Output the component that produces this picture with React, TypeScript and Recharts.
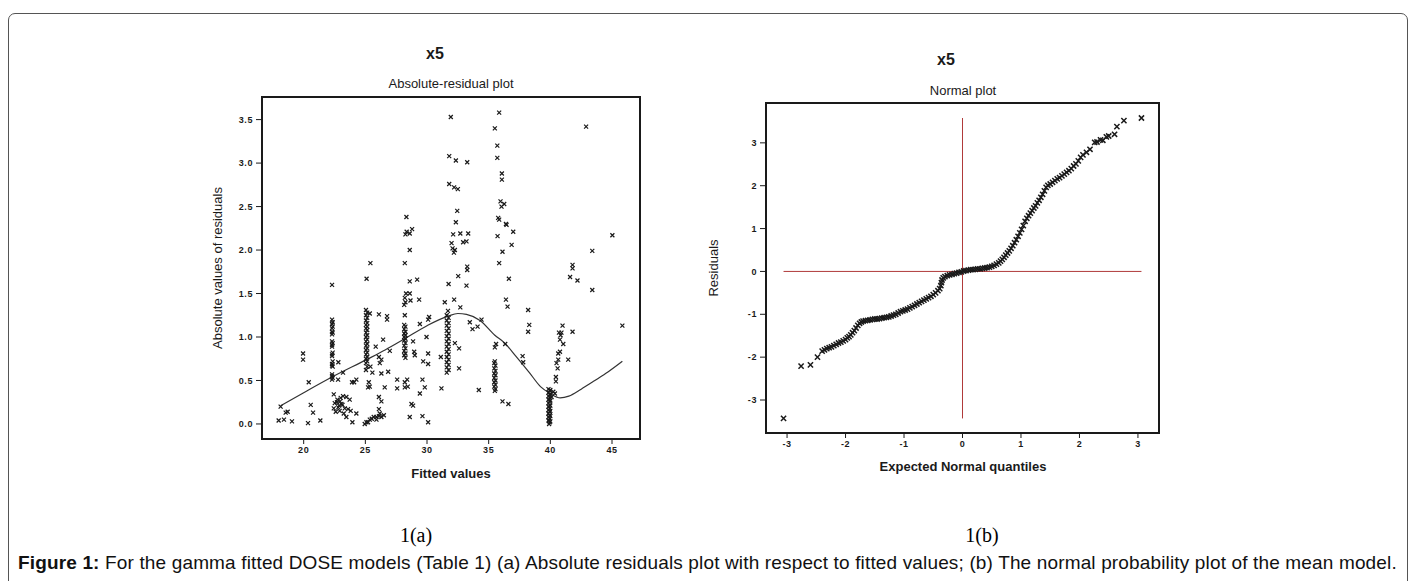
import { ComposedChart, Scatter, Line, XAxis, YAxis, ReferenceArea, ReferenceLine } from 'recharts';

// (a) absolute residuals vs fitted values as [fitted, |residual|]
const lowFitted = [
  [17.97, 0.04], [18.13, 0.2], [18.4, 0.05], [18.54, 0.13], [18.7, 0.14], [19.05, 0.03], [19.95, 0.81],
  [19.95, 0.74], [20.41, 0.48], [20.35, 0.01], [20.57, 0.22], [20.76, 0.13], [21.35, 0.04],
];
const cluster22 = [
  [22.3, 1.6], [22.3, 1.2], [22.35, 1.17], [22.3, 1.15], [22.35, 1.12], [22.3, 1.1], [22.3, 1.06], [22.35, 1.05],
  [22.3, 1.03], [22.3, 0.95], [22.35, 0.93], [22.3, 0.91], [22.3, 0.89], [22.35, 0.82], [22.3, 0.8], [22.3, 0.78],
  [22.35, 0.72], [22.3, 0.69], [22.3, 0.67], [22.35, 0.66], [22.3, 0.57], [22.3, 0.55], [22.35, 0.53], [22.3, 0.51],
  [22.44, 0.34], [22.52, 0.24], [22.44, 0.18], [22.6, 0.14], [22.73, 0.28], [22.87, 0.21], [22.92, 0.15],
  [23.06, 0.23], [23.19, 0.32], [23.33, 0.18], [23.46, 0.31], [23.46, 0.08], [23.6, 0.17], [23.73, 0.28],
  [23.81, 0.15], [23.95, 0.02], [24.27, 0.12], [22.79, 0.51], [22.81, 0.71], [23.19, 0.59], [23.92, 0.48],
  [24.09, 0.48], [24.27, 0.51], [22.7, 0.25], [22.8, 0.19], [23.0, 0.3], [22.95, 0.26], [23.15, 0.22], [23.25, 0.12],
];
const cluster25 = [
  [25.05, 1.31], [25.15, 1.28], [25.05, 1.25], [25.15, 1.22], [25.05, 1.19], [25.15, 1.16], [25.05, 1.14],
  [25.15, 1.12], [25.05, 1.1], [25.15, 1.08], [25.05, 1.05], [25.15, 1.02], [25.05, 1.0], [25.15, 0.97],
  [25.05, 0.95], [25.15, 0.92], [25.05, 0.9], [25.15, 0.87], [25.05, 0.85], [25.15, 0.82], [25.05, 0.8],
  [25.15, 0.77], [25.05, 0.75], [25.15, 0.72], [25.05, 0.7], [25.15, 0.66], [25.05, 0.62], [25.1, 1.67],
  [25.41, 1.85], [24.95, 0.0], [25.09, 0.02], [25.22, 0.02], [25.36, 0.05], [25.52, 0.06], [25.68, 0.08],
  [25.9, 0.08], [26.1, 0.09], [26.3, 0.08], [26.5, 0.1], [26.17, 0.12], [25.9, 0.05], [25.28, 0.48], [25.36, 0.43],
  [25.22, 0.42], [25.36, 1.27], [26.1, 1.26], [25.84, 0.89], [26.1, 0.77], [26.44, 0.97], [25.41, 0.66],
  [25.57, 0.59], [26.17, 0.7], [26.3, 0.58], [26.85, 0.6], [26.3, 0.74], [26.76, 1.24], [26.76, 1.2], [26.98, 0.84],
  [26.57, 0.42], [26.1, 0.31], [26.3, 0.26], [26.1, 0.17],
];
const cluster28 = [
  [28.15, 1.14], [28.25, 1.12], [28.15, 1.09], [28.25, 1.06], [28.15, 1.04], [28.25, 1.02], [28.15, 1.0],
  [28.25, 0.98], [28.15, 0.96], [28.25, 0.93], [28.15, 0.9], [28.25, 0.87], [28.15, 0.84], [28.25, 0.81],
  [28.15, 0.79], [28.25, 0.76], [28.2, 1.25], [28.15, 1.37], [28.25, 1.4], [28.2, 1.45], [28.3, 1.5], [28.2, 1.85],
  [28.25, 2.18], [28.35, 2.21], [28.33, 2.38], [28.6, 1.5], [28.66, 1.42], [28.6, 1.64], [28.6, 2.0], [28.79, 2.24],
  [28.6, 2.19], [28.39, 0.51], [28.44, 0.43], [27.58, 0.51], [27.58, 0.41], [28.2, 0.48], [28.2, 0.42], [28.6, 0.08],
  [28.74, 0.23], [28.87, 0.21], [28.87, 0.95], [28.96, 0.83], [29.01, 0.79], [29.2, 1.66], [29.36, 1.43],
  [29.42, 1.15], [29.63, 0.51], [29.63, 0.09], [29.42, 0.35], [29.82, 0.42], [29.69, 0.72], [29.96, 1.0],
  [30.09, 1.2], [30.17, 1.23], [30.09, 0.81], [30.09, 0.69], [30.09, 0.02], [31.12, 0.77], [31.17, 0.41], [31.44, 1.4],
];
const cluster32 = [
  [31.6, 1.25], [31.75, 1.22], [31.6, 1.19], [31.75, 1.16], [31.6, 1.13], [31.75, 1.1], [31.6, 1.07], [31.75, 1.04],
  [31.6, 1.01], [31.75, 0.98], [31.6, 0.95], [31.75, 0.92], [31.6, 0.89], [31.75, 0.86], [31.6, 0.83], [31.75, 0.8],
  [31.6, 0.77], [31.75, 0.74], [31.6, 0.71], [31.75, 0.68], [31.6, 0.65], [31.75, 0.62], [31.6, 0.59], [31.7, 1.3],
  [31.75, 1.61], [31.99, 2.08], [32.07, 2.02], [32.18, 1.97], [32.26, 2.0], [32.12, 2.18], [32.34, 2.32],
  [32.45, 2.45], [32.2, 1.43], [32.53, 1.7], [32.6, 0.87], [32.26, 0.93], [32.6, 0.64], [32.7, 1.34], [32.7, 2.19],
  [32.93, 2.09], [33.2, 2.1], [33.34, 2.19], [33.2, 1.59], [33.26, 1.77], [33.26, 1.81], [33.47, 1.17],
  [33.69, 1.09], [34.1, 1.12], [34.2, 0.39], [34.42, 1.2], [31.93, 3.53], [31.8, 3.08], [32.34, 3.03],
  [33.26, 3.01], [31.8, 2.76], [32.2, 2.72], [32.5, 2.7],
];
const cluster35 = [
  [35.45, 0.7], [35.55, 0.67], [35.45, 0.64], [35.55, 0.61], [35.45, 0.58], [35.55, 0.56], [35.45, 0.53],
  [35.55, 0.5], [35.45, 0.48], [35.55, 0.45], [35.45, 0.43], [35.55, 0.4], [35.5, 0.38], [35.5, 0.72],
  [35.5, 0.88], [35.6, 0.92], [35.85, 1.85], [35.72, 2.16], [35.77, 2.37], [35.85, 2.35], [36.4, 2.3],
  [36.45, 2.29], [36.12, 1.98], [36.86, 2.06], [36.99, 2.21], [36.64, 1.67], [36.4, 1.43], [36.53, 1.35],
  [36.34, 0.92], [36.12, 0.26], [36.6, 0.23], [36.04, 2.5], [35.96, 2.56], [36.26, 2.53], [37.75, 0.78],
  [37.8, 0.71], [38.2, 1.31], [38.29, 1.14], [38.2, 1.06], [35.85, 3.58], [35.5, 3.4], [35.7, 3.2], [35.7, 3.06],
  [36.07, 2.88], [36.07, 2.81],
];
const cluster40 = [
  [39.85, 0.4], [39.95, 0.38], [39.85, 0.36], [39.95, 0.34], [39.85, 0.32], [39.95, 0.3], [39.85, 0.28],
  [39.95, 0.26], [39.85, 0.24], [39.95, 0.22], [39.85, 0.2], [39.95, 0.18], [39.85, 0.16], [39.95, 0.14],
  [39.85, 0.12], [39.95, 0.1], [39.85, 0.08], [39.95, 0.06], [39.85, 0.04], [39.95, 0.02], [39.9, 0.0],
  [40.0, 0.39], [40.0, 0.33], [40.0, 0.27], [40.0, 0.21], [40.0, 0.15], [40.0, 0.09], [40.0, 0.03],
  [40.1, 0.31], [40.24, 0.37], [40.37, 0.35], [40.45, 0.54], [40.45, 0.49], [40.5, 0.7], [40.59, 0.64],
  [40.64, 0.74], [40.64, 0.81], [40.78, 0.83], [40.78, 0.97], [40.83, 1.02], [40.7, 1.05], [40.9, 1.05],
  [41.05, 0.92], [40.99, 1.13], [41.45, 0.74], [41.8, 1.06], [41.6, 1.69], [41.8, 1.79], [41.8, 1.83],
  [42.2, 1.65], [43.4, 1.54], [43.4, 1.99], [45.03, 2.17], [45.84, 1.13], [42.9, 3.42],
];
// smoothed curve through the residuals
const smoothCurve = [
  [18.13, 0.21], [20, 0.36], [22.3, 0.54], [25.1, 0.74], [26.6, 0.85], [28.2, 0.98], [30, 1.13], [31.7, 1.24],
  [32.5, 1.27], [33.2, 1.26], [34.3, 1.19], [35.5, 1.02], [36.3, 0.93], [37.2, 0.78], [38.3, 0.59], [39.2, 0.43],
  [40, 0.35], [40.8, 0.3], [41.5, 0.32], [42.5, 0.4], [43.5, 0.49], [44.7, 0.6], [45.84, 0.72],
];
const fittedTicks = [20, 25, 30, 35, 40, 45];
const residTicks = [0, 0.5, 1, 1.5, 2, 2.5, 3, 3.5];

// (b) normal plot: [expected quantile, residual]
const qqPoints = [
  [-3.06, -3.43], [-2.76, -2.21], [-2.6, -2.18], [-2.48, -2.0], [-2.4, -1.86], [-2.36, -1.83], [-2.32, -1.8],
  [-2.28, -1.78], [-2.24, -1.76], [-2.2, -1.73], [-2.16, -1.7], [-2.12, -1.67], [-2.08, -1.65], [-2.04, -1.62],
  [-2.0, -1.59], [-1.97, -1.55], [-1.94, -1.52], [-1.91, -1.48], [-1.88, -1.43], [-1.85, -1.38], [-1.82, -1.32],
  [-1.79, -1.26], [-1.76, -1.21], [-1.73, -1.18], [-1.7, -1.16], [-1.66, -1.15], [-1.62, -1.14], [-1.58, -1.13],
  [-1.54, -1.12], [-1.5, -1.11], [-1.46, -1.11], [-1.42, -1.1], [-1.38, -1.09], [-1.34, -1.08], [-1.3, -1.07],
  [-1.26, -1.06], [-1.22, -1.04], [-1.18, -1.02], [-1.14, -1.0], [-1.1, -0.97], [-1.06, -0.94], [-1.02, -0.92],
  [-0.98, -0.9], [-0.94, -0.88], [-0.9, -0.85], [-0.86, -0.82], [-0.82, -0.79], [-0.78, -0.76], [-0.74, -0.73],
  [-0.7, -0.7], [-0.66, -0.67], [-0.62, -0.64], [-0.58, -0.61], [-0.54, -0.58], [-0.5, -0.54], [-0.46, -0.5],
  [-0.42, -0.45], [-0.39, -0.4], [-0.37, -0.33], [-0.36, -0.26], [-0.35, -0.2], [-0.33, -0.15], [-0.3, -0.12],
  [-0.26, -0.1], [-0.22, -0.08], [-0.18, -0.07], [-0.14, -0.05], [-0.1, -0.04], [-0.06, -0.02], [-0.02, -0.01],
  [0.02, 0.01], [0.06, 0.02], [0.1, 0.03], [0.14, 0.04], [0.18, 0.04], [0.22, 0.05], [0.26, 0.06], [0.3, 0.06],
  [0.34, 0.07], [0.38, 0.08], [0.42, 0.09], [0.46, 0.1], [0.5, 0.12], [0.54, 0.14], [0.58, 0.17], [0.62, 0.2],
  [0.65, 0.24], [0.68, 0.28], [0.71, 0.33], [0.74, 0.38], [0.77, 0.43], [0.8, 0.48], [0.83, 0.54], [0.86, 0.6],
  [0.89, 0.67], [0.92, 0.74], [0.95, 0.82], [0.98, 0.9], [1.01, 0.98], [1.04, 1.07], [1.07, 1.17], [1.1, 1.24],
  [1.13, 1.3], [1.16, 1.36], [1.19, 1.42], [1.22, 1.48], [1.25, 1.53], [1.28, 1.6], [1.31, 1.66], [1.34, 1.73],
  [1.37, 1.8], [1.4, 1.88], [1.43, 1.96], [1.46, 2.01], [1.5, 2.04], [1.54, 2.08], [1.58, 2.12], [1.62, 2.16],
  [1.66, 2.19], [1.7, 2.23], [1.74, 2.27], [1.78, 2.31], [1.82, 2.35], [1.86, 2.4], [1.9, 2.46], [1.94, 2.51],
  [1.98, 2.58], [2.02, 2.66], [2.06, 2.72], [2.12, 2.78], [2.18, 2.85], [2.26, 3.01], [2.3, 3.02], [2.36, 3.07],
  [2.4, 3.06], [2.46, 3.14], [2.5, 3.16], [2.6, 3.2], [2.64, 3.38], [2.76, 3.52], [3.06, 3.58],
];
const quantileTicks = [-3, -2, -1, 0, 1, 2, 3];
const qqResidTicks = [-3, -2, -1, 0, 1, 2, 3];

const toXY = (pts: number[][]) => pts.map(([x, y]) => ({ x, y }));
const residData = toXY([...lowFitted, ...cluster22, ...cluster25, ...cluster28, ...cluster32, ...cluster35, ...cluster40]);
const curveData = toXY(smoothCurve);
const qqData = toXY(qqPoints);

const sans = '"Liberation Sans", Arial, sans-serif';
const ink = '#1a1a1a';
const red = '#b03a3a';
const tickStyle = { fontSize: 9, fontWeight: 'bold', fill: ink, fontFamily: sans, letterSpacing: 0.6 };

const makeCross = (s: number, w: number) => (props: any) => {
  const { cx, cy } = props;
  if (cx == null || cy == null) return null;
  return (
    <path
      d={`M${cx - s},${cy - s}L${cx + s},${cy + s}M${cx - s},${cy + s}L${cx + s},${cy - s}`}
      stroke={ink}
      strokeWidth={w}
      fill="none"
    />
  );
};
const residCross = makeCross(2, 1.2);
const qqCross = makeCross(2.6, 1.5);

const Label = ({ x, y, size, bold, rotate, children }: any) => (
  <div
    style={{
      position: 'absolute',
      left: x,
      top: y,
      transform: `translate(-50%, -50%)${rotate ? ' rotate(-90deg)' : ''}`,
      fontFamily: sans,
      fontSize: size,
      fontWeight: bold ? 'bold' : 'normal',
      color: ink,
      whiteSpace: 'nowrap',
    }}
  >
    {children}
  </div>
);

const fitDomain = [16.62, 47.27];
const resDomain = [-0.173, 3.76];
const qDomain = [-3.36, 3.36];
const qrDomain = [-3.77, 3.93];

export default function App() {
  return (
    <div style={{ position: 'absolute', left: 0, top: 0, width: 1414, height: 581, overflow: 'hidden', background: '#fff' }}>
      <div
        style={{
          position: 'absolute',
          left: 8,
          top: 13,
          width: 1400,
          height: 640,
          border: '1.5px solid #555',
          borderRadius: 7,
          boxSizing: 'border-box',
        }}
      />

      <div style={{ position: 'absolute', left: 0, top: 0 }}>
        <ComposedChart width={700} height={500} margin={{ top: 97, right: 60, bottom: 31, left: 0 }}>
          <XAxis
            type="number"
            dataKey="x"
            domain={fitDomain}
            ticks={fittedTicks}
            allowDataOverflow
            axisLine={false}
            tickLine={{ stroke: ink }}
            tickSize={5}
            tickMargin={3}
            tick={tickStyle}
            height={30}
          />
          <YAxis
            type="number"
            dataKey="y"
            domain={resDomain}
            ticks={residTicks}
            allowDataOverflow
            axisLine={false}
            tickLine={{ stroke: ink }}
            tickSize={6}
            tickMargin={3}
            tick={tickStyle}
            tickFormatter={(v: number) => v.toFixed(1)}
            width={262}
          />
          <ReferenceArea
            x1={fitDomain[0]}
            x2={fitDomain[1]}
            y1={resDomain[0]}
            y2={resDomain[1]}
            fill="none"
            fillOpacity={0}
            stroke={ink}
            strokeWidth={2}
          />
          <Scatter data={residData} shape={residCross} isAnimationActive={false} />
          <Line
            data={curveData}
            dataKey="y"
            type="monotone"
            stroke="#333"
            strokeWidth={1.2}
            dot={false}
            activeDot={false}
            isAnimationActive={false}
          />
        </ComposedChart>
      </div>

      <div style={{ position: 'absolute', left: 700, top: 0 }}>
        <ComposedChart width={714} height={500} margin={{ top: 103, right: 255, bottom: 37, left: 0 }}>
          <XAxis
            type="number"
            dataKey="x"
            domain={qDomain}
            ticks={quantileTicks}
            allowDataOverflow
            axisLine={false}
            tickLine={{ stroke: ink }}
            tickSize={5}
            tickMargin={3}
            tick={tickStyle}
            height={30}
          />
          <YAxis
            type="number"
            dataKey="y"
            domain={qrDomain}
            ticks={qqResidTicks}
            allowDataOverflow
            axisLine={false}
            tickLine={{ stroke: ink }}
            tickSize={6}
            tickMargin={3}
            tick={tickStyle}
            width={66}
          />
          <ReferenceArea
            x1={qDomain[0]}
            x2={qDomain[1]}
            y1={qrDomain[0]}
            y2={qrDomain[1]}
            fill="none"
            fillOpacity={0}
            stroke={ink}
            strokeWidth={2}
          />
          <Scatter data={qqData} shape={qqCross} isAnimationActive={false} />
          <ReferenceLine segment={[{ x: 0, y: -3.43 }, { x: 0, y: 3.58 }]} stroke={red} strokeWidth={1} />
          <ReferenceLine segment={[{ x: -3.06, y: 0 }, { x: 3.06, y: 0 }]} stroke={red} strokeWidth={1} />
        </ComposedChart>
      </div>

      <Label x={435} y={54} size={16} bold>x5</Label>
      <Label x={451} y={83} size={13}>Absolute-residual plot</Label>
      <Label x={451} y={473} size={13} bold>Fitted values</Label>
      <Label x={217} y={268} size={13} rotate>Absolute values of residuals</Label>

      <Label x={946} y={60} size={16} bold>x5</Label>
      <Label x={963} y={90} size={13}>Normal plot</Label>
      <Label x={963} y={466} size={13} bold>Expected Normal quantiles</Label>
      <Label x={713} y={268} size={13} rotate>Residuals</Label>

      <div style={{ position: 'absolute', left: 416, top: 535, transform: 'translate(-50%, -50%)', fontFamily: '"Liberation Serif", serif', fontSize: 20 }}>1(a)</div>
      <div style={{ position: 'absolute', left: 982, top: 535, transform: 'translate(-50%, -50%)', fontFamily: '"Liberation Serif", serif', fontSize: 20 }}>1(b)</div>

      <div style={{ position: 'absolute', left: 18, top: 552, fontFamily: sans, fontSize: 19, letterSpacing: 0.15, color: '#111', whiteSpace: 'nowrap' }}>
        <b>Figure 1:</b> For the gamma fitted DOSE models (Table 1) (a) Absolute residuals plot with respect to fitted values; (b) The normal probability plot of the mean model.
      </div>
    </div>
  );
}
